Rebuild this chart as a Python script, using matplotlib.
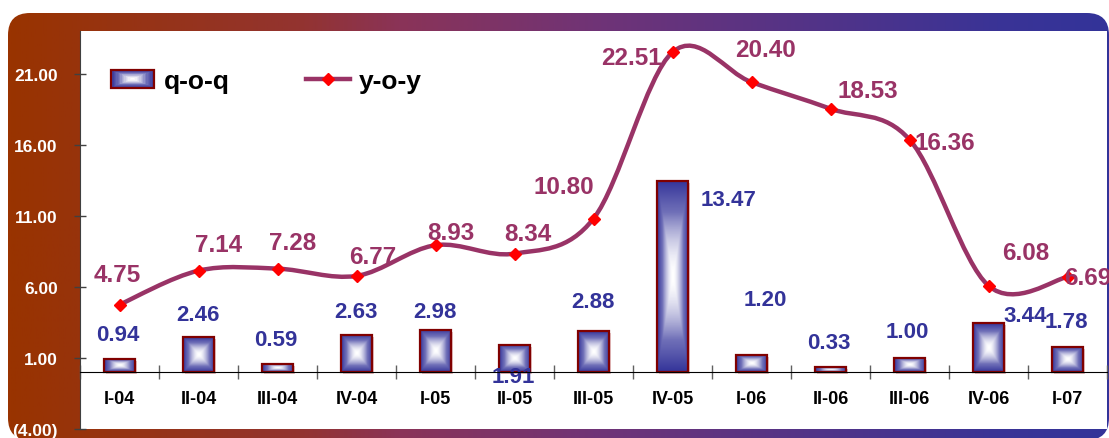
import numpy as np
import matplotlib
matplotlib.use('Agg')
import matplotlib.pyplot as plt
from matplotlib.colors import LinearSegmentedColormap
from matplotlib.patches import FancyBboxPatch, Rectangle, PathPatch
from matplotlib.lines import Line2D
from matplotlib.path import Path
from matplotlib.legend_handler import HandlerBase
from matplotlib.container import BarContainer
from matplotlib.transforms import offset_copy

plt.rcParams['font.family'] = ['Liberation Sans', 'DejaVu Sans']
plt.rcParams['font.weight'] = 'bold'

# data
quarters = ['I-04', 'II-04', 'III-04', 'IV-04', 'I-05', 'II-05', 'III-05',
            'IV-05', 'I-06', 'II-06', 'III-06', 'IV-06', 'I-07']
qoq = [0.94, 2.46, 0.59, 2.63, 2.98, 1.91, 2.88, 13.47, 1.20, 0.33, 1.00, 3.44, 1.78]
yoy = [4.75, 7.14, 7.28, 6.77, 8.93, 8.34, 10.80, 22.51, 20.40, 18.53, 16.36, 6.08, 6.69]
yticks = [-4, 1, 6, 11, 16, 21]

# label offsets in pixels (dx, dy)
qoq_off = [(-2, 24), (-1, 23), (-2, 24), (-1, 23), (-1, 18), (-1, -32), (-1, 30),
           (56, -19), (14, 56), (-2, 25), (-2, 26), (37, 8), (-1, 25)]
yoy_off = [(-2, 30), (20, 26), (15, 26), (16, 19), (15, 13), (13, 20), (-30, 32),
           (-41, -5), (14, 33), (37, 18), (35, -3), (37, 33), (20, 0)]

LINE_C = '#993366'
BAR_EDGE = '#800000'
BLUE = '#333399'

W, H = 1109, 439
fig = plt.figure(figsize=(W / 100, H / 100), dpi=100)
fig.patch.set_facecolor('white')

# gradient frame behind the plot
bg = fig.add_axes([0, 0, 1, 1])
bg.set_xlim(0, W)
bg.set_ylim(H, 0)
bg.axis('off')
frame_cmap = LinearSegmentedColormap.from_list(
    'frame', [(0, '#993300'), (0.265, '#933330'), (0.356, '#8a3358'),
              (0.538, '#6f3377'), (0.9, '#3a3496'), (1, '#333399')])
grad = np.linspace(0, 1, 512).reshape(1, -1)
fim = bg.imshow(grad, cmap=frame_cmap, extent=(8, W, 441, 14), aspect='auto')
frame = FancyBboxPatch((8, 14), W - 8, 441 - 14, boxstyle='round,pad=0,rounding_size=22',
                       facecolor='none', edgecolor='none')
bg.add_patch(frame)
fim.set_clip_path(frame)

ax = fig.add_axes([80 / W, 9 / H, 1027 / W, 398 / H])
ax.set_facecolor('white')

x = np.arange(len(quarters))
bw = 0.4

# bars: shadow, gradient fill, outline
shadow = offset_copy(ax.transData, fig=fig, x=2, y=-2, units='dots')
ax.bar(x, qoq, bw, color='#e8c4c4', transform=shadow, zorder=2)
bars = ax.bar(x, qoq, bw, facecolor='none', edgecolor=BAR_EDGE, linewidth=1.6, zorder=3)
bar_cmap = LinearSegmentedColormap.from_list('bar', ['white', '#7070b8', BLUE])
U, V = np.meshgrid(np.linspace(-1, 1, 60), np.linspace(-1, 1, 200))
T = np.maximum(np.abs(U), np.abs(V)) ** 1.7
for b in bars:
    x0, y0, w, h = b.get_x(), b.get_y(), b.get_width(), b.get_height()
    g = ax.imshow(T, cmap=bar_cmap, vmin=0, vmax=1, extent=(x0, x0 + w, y0, y0 + h),
                  aspect='auto', interpolation='bilinear', zorder=2.5)
    g.set_clip_path(b)

# smoothed y-o-y line (Excel-style bezier)
pts = np.column_stack([x, yoy]).astype(float)
n = len(pts)
verts = [pts[0]]
codes = [Path.MOVETO]
for i in range(n - 1):
    p0 = pts[i - 1] if i > 0 else pts[i]
    p1, p2 = pts[i], pts[i + 1]
    p3 = pts[i + 2] if i + 2 < n else pts[i + 1]
    verts += [p1 + (p2 - p0) / 6, p2 - (p3 - p1) / 6, p2]
    codes += [Path.CURVE4] * 3
ax.add_patch(PathPatch(Path(verts, codes), facecolor='none', edgecolor=LINE_C,
                       linewidth=3.2, capstyle='round', joinstyle='round', zorder=4))
ax.plot(x, yoy, linestyle='none', marker='D', color='red', markersize=6, zorder=5)

# data labels
for xi, v, (dx, dy) in zip(x, qoq, qoq_off):
    ax.annotate(f'{v:.2f}', (xi, v), xytext=(dx, dy), textcoords='offset pixels',
                ha='center', va='center', color=BLUE, fontsize=16, fontweight='bold', zorder=6)
for xi, v, (dx, dy) in zip(x, yoy, yoy_off):
    ax.annotate(f'{v:.2f}', (xi, v), xytext=(dx, dy), textcoords='offset pixels',
                ha='center', va='center', color=LINE_C, fontsize=17.5, fontweight='bold',
                zorder=6, annotation_clip=False)

ax.set_xlim(-0.5, len(quarters) - 0.5)
ax.set_ylim(-4, 24)

# axes styling
ax.spines['top'].set_visible(False)
ax.spines['right'].set_visible(False)
ax.spines['bottom'].set_position(('data', 0))
ax.spines['bottom'].set_color('black')
ax.spines['bottom'].set_zorder(7)
ax.spines['left'].set_color('#404040')

ax.set_yticks(yticks, [f'({abs(v):.2f})' if v < 0 else f'{v:.2f}' for v in yticks])
ax.tick_params(axis='y', direction='inout', length=8, width=1, color='#404040',
               labelcolor='white', labelsize=12.5, pad=12)
ax.set_xticks(x, quarters)
ax.set_xticks(np.arange(len(quarters) + 1) - 0.5, minor=True)
ax.tick_params(axis='x', which='major', length=0, pad=12.5, labelsize=13, labelcolor='black')
ax.tick_params(axis='x', which='minor', direction='inout', length=10, width=1, color='#606060')


class GradientBoxHandler(HandlerBase):
    def create_artists(self, legend, orig_handle, xdescent, ydescent, width, height,
                       fontsize, trans):
        arts = []
        steps = 16
        for k in range(steps):
            f = 1 - k / steps
            w, h = width * f, height * f
            arts.append(Rectangle((-xdescent + (width - w) / 2, -ydescent + (height - h) / 2),
                                  w, h, facecolor=bar_cmap(f ** 1.7), edgecolor='none',
                                  transform=trans))
        arts.append(Rectangle((-xdescent, -ydescent), width, height, facecolor='none',
                              edgecolor=BAR_EDGE, linewidth=1.6, transform=trans))
        return arts


line_handle = Line2D([], [], color=LINE_C, linewidth=3.2, marker='D', markersize=6,
                     markerfacecolor='red', markeredgecolor='red')
ax.legend([bars, line_handle], ['q-o-q', 'y-o-y'], handler_map={BarContainer: GradientBoxHandler()},
          loc='center left', bbox_to_anchor=(0.030, 0.874), ncol=2, frameon=False,
          prop={'size': 19, 'weight': 'bold'}, handlelength=1.65, handleheight=0.65,
          handletextpad=0.35, columnspacing=2.9, borderpad=0, borderaxespad=0)

fig.savefig('out.png', dpi=100)
